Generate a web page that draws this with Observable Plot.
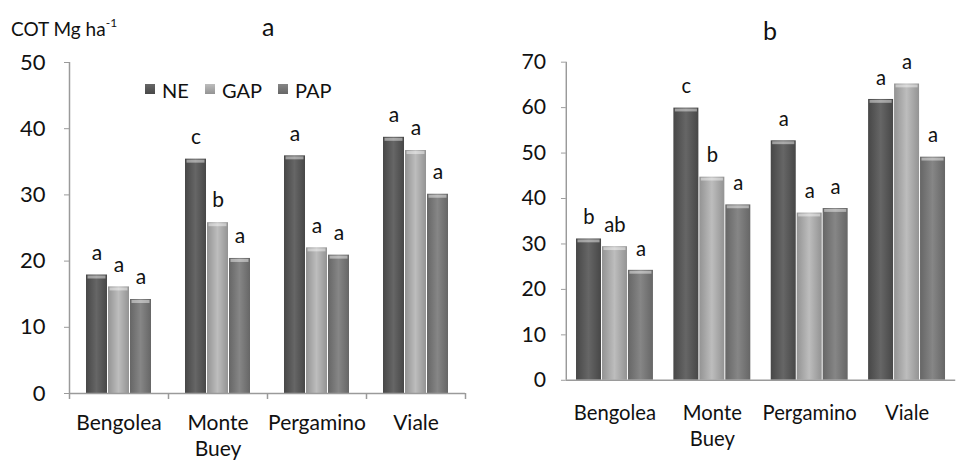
<!DOCTYPE html>
<html><head><meta charset="utf-8">
<script src="https://cdn.jsdelivr.net/npm/d3@7"></script>
<script src="https://cdn.jsdelivr.net/npm/@observablehq/plot@0.6"></script>
<style>
body{margin:0;overflow:hidden;background:#fff;font-family:Lato,sans-serif;}
#wrap{position:relative;width:962px;height:462px;overflow:hidden;background:#fff;}
.panel{position:absolute;top:0;}
.t{position:absolute;color:#111;white-space:nowrap;line-height:1;}
.sw{position:absolute;width:10px;height:10px;}
</style></head><body><div id="wrap"></div>
<script>
const sites = ["Bengolea", "Monte Buey", "Pergamino", "Viale"];
const siteLabels = ["Bengolea", "Monte\nBuey", "Pergamino", "Viale"];
const series = ["NE", "GAP", "PAP"];

// Panel a
const neA = [17.9, 35.4, 35.9, 38.7];
const gapA = [16.1, 25.8, 22.0, 36.7];
const papA = [14.2, 20.4, 20.9, 30.1];
const neLetA = ["a", "c", "a", "a"];
const gapLetA = ["a", "b", "a", "a"];
const papLetA = ["a", "a", "a", "a"];
const yTicksA = [0, 10, 20, 30, 40, 50];

// Panel b
const neB = [31.1, 59.9, 52.7, 61.8];
const gapB = [29.4, 44.7, 36.8, 65.2];
const papB = [24.2, 38.6, 37.8, 49.1];
const neLetB = ["b", "c", "a", "a"];
const gapLetB = ["ab", "b", "a", "a"];
const papLetB = ["a", "a", "a", "a"];
const yTicksB = [0, 10, 20, 30, 40, 50, 60, 70];

const grads = {
  NE: ["#474747", "#666666", "#474747"],
  GAP: ["#939393", "#bdbdbd", "#939393"],
  PAP: ["#666666", "#868686", "#666666"]
};

function rowsFor(vals, lets) {
  return series.map((s, i) => sites.map((site, j) => ({site, series: s, value: vals[i][j], letter: lets[i][j]})));
}

function chart(cfg) {
  const {id, width, height, ml, mr, mt, mb, yTicks, rows, groupFrac, xTicks, labelPad, yPad} = cfg;
  const step = (width - ml - mr) / sites.length;
  const barW = step * groupFrac / 3;
  const pad = (step - 3 * barW) / 2;
  const marks = [];
  series.forEach((s, i) => {
    const insetLeft = pad + i * barW;
    const insetRight = step - pad - (i + 1) * barW;
    marks.push(Plot.barY(rows[i], {x: "site", y: "value", fill: `url(#${id}-${s})`, insetLeft: insetLeft + 0.5, insetRight: insetRight + 0.5}));
    marks.push(Plot.tickY(rows[i], {x: "site", y: "value", stroke: "#fff", strokeOpacity: 0.45, strokeWidth: 3, dy: 2, insetLeft: insetLeft + 2, insetRight: insetRight + 2}));
    marks.push(Plot.text(rows[i], {x: "site", y: "value", text: "letter", dx: pad + (i + 0.5) * barW - step / 2, dy: -22, fontSize: 21, fill: "#111"}));
  });
  marks.push(Plot.ruleY([0], {stroke: "#9a9a9a", strokeWidth: 1.5}));
  marks.push(Plot.ruleX([sites[0]], {x: d => d, y1: 0, y2: yTicks[yTicks.length - 1], dx: -step / 2, stroke: "#9a9a9a", strokeWidth: 1.5}));
  marks.push(Plot.axisY(yTicks, {tickSize: 5, tickPadding: yPad, stroke: "#9a9a9a", fill: "#111", fontSize: 22, label: null}));
  marks.push(Plot.axisX(sites, {tickSize: 0, tickPadding: labelPad, tickFormat: d => siteLabels[sites.indexOf(d)], fontSize: 21, lineHeight: 1.28, fill: "#111", label: null}));
  if (xTicks) {
    marks.push(Plot.axisX(sites, {tickSize: 6, tickFormat: () => "", dx: step / 2, stroke: "#9a9a9a", strokeWidth: 1.5, label: null}));
    marks.push(Plot.axisX([sites[0]], {tickSize: 6, tickFormat: () => "", dx: -step / 2, stroke: "#9a9a9a", strokeWidth: 1.5, label: null}));
  }
  const svg = Plot.plot({
    width, height, marginLeft: ml, marginRight: mr, marginTop: mt, marginBottom: mb,
    x: {domain: sites, padding: 0, label: null},
    y: {domain: [yTicks[0], yTicks[yTicks.length - 1]], label: null},
    style: {fontFamily: "Lato, sans-serif", background: "transparent", overflow: "visible"},
    marks
  });
  const ns = "http://www.w3.org/2000/svg";
  const defs = document.createElementNS(ns, "defs");
  series.forEach(s => {
    const g = document.createElementNS(ns, "linearGradient");
    g.setAttribute("id", `${id}-${s}`);
    g.setAttribute("x1", "0"); g.setAttribute("x2", "1"); g.setAttribute("y1", "0"); g.setAttribute("y2", "0");
    grads[s].forEach((c, k) => {
      const st = document.createElementNS(ns, "stop");
      st.setAttribute("offset", `${k * 50}%`);
      st.setAttribute("stop-color", c);
      g.appendChild(st);
    });
    defs.appendChild(g);
  });
  svg.insertBefore(defs, svg.firstChild);
  return svg;
}

const wrap = document.getElementById("wrap");

const pa = document.createElement("div");
pa.className = "panel"; pa.style.left = "0px";
pa.appendChild(chart({id: "ga", width: 480, height: 462, ml: 69, mr: 15, mt: 62, mb: 69, yTicks: yTicksA,
  rows: rowsFor([neA, gapA, papA], [neLetA, gapLetA, papLetA]), groupFrac: 2 / 3, xTicks: true, labelPad: 17, yPad: 19}));
wrap.appendChild(pa);

const pb = document.createElement("div");
pb.className = "panel"; pb.style.left = "480px";
pb.appendChild(chart({id: "gb", width: 500, height: 462, ml: 89, mr: 7, mt: 64, mb: 68, yTicks: yTicksB,
  rows: rowsFor([neB, gapB, papB], [neLetB, gapLetB, papLetB]), groupFrac: 0.8, xTicks: false, labelPad: 22, yPad: 16}));
wrap.appendChild(pb);

function addText(txt, x, y, size, html) {
  const d = document.createElement("div");
  d.className = "t";
  if (html) d.innerHTML = txt; else d.textContent = txt;
  d.style.left = x + "px"; d.style.top = y + "px"; d.style.fontSize = size + "px";
  wrap.appendChild(d);
  return d;
}
addText("COT Mg ha<sup style=\"font-size:12px;vertical-align:9px\">-1</sup>", 11, 17, 19, true);
addText("a", 262, 14, 25);
addText("b", 763, 18, 25);

const legendX = [145, 205, 278];
series.forEach((s, i) => {
  const sw = document.createElement("div");
  sw.className = "sw";
  sw.style.left = legendX[i] + "px"; sw.style.top = "84px";
  sw.style.background = `linear-gradient(180deg, ${grads[s][1]}, ${grads[s][0]})`;
  wrap.appendChild(sw);
  addText(s, legendX[i] + 17, 80, 20);
});
</script></body></html>
